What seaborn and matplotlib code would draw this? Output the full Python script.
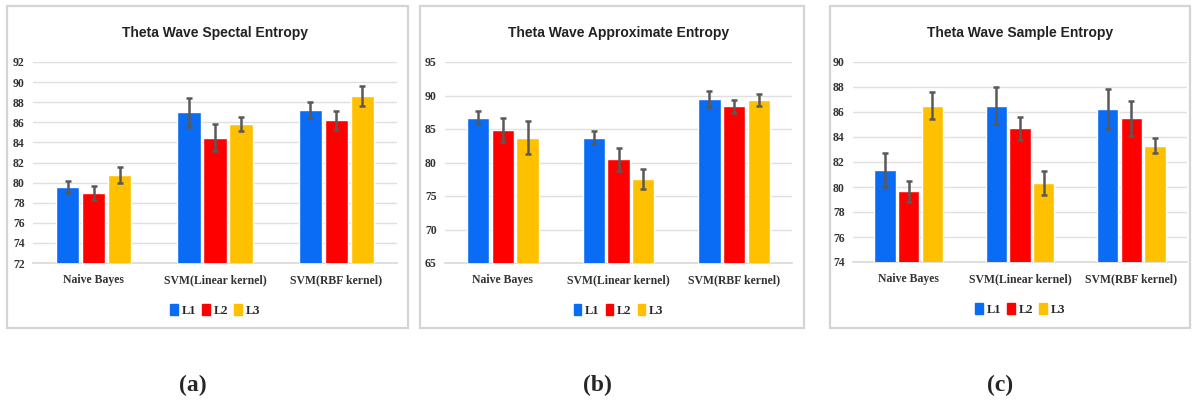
import matplotlib
matplotlib.use("Agg")
import matplotlib.pyplot as plt
import seaborn as sns
import pandas as pd
from matplotlib.patches import Rectangle

classifiers = ["Naive Bayes", "SVM(Linear kernel)", "SVM(RBF kernel)"]
levels = ["L1", "L2", "L3"]

# (a) spectral entropy
spectral_mean = {"L1": [79.6, 87.0, 87.2], "L2": [79.0, 84.45, 86.2], "L3": [80.75, 85.8, 88.6]}
spectral_err = {"L1": [0.6, 1.45, 0.8], "L2": [0.7, 1.35, 0.95], "L3": [0.8, 0.7, 1.0]}
# (b) approximate entropy
approx_mean = {"L1": [86.7, 83.7, 89.5], "L2": [84.8, 80.5, 88.4], "L3": [83.7, 77.6, 89.3]}
approx_err = {"L1": [1.0, 1.0, 1.2], "L2": [1.8, 1.7, 1.0], "L3": [2.5, 1.5, 0.9]}
# (c) sample entropy
sample_mean = {"L1": [81.35, 86.5, 86.2], "L2": [79.65, 84.7, 85.5], "L3": [86.5, 80.35, 83.3]}
sample_err = {"L1": [1.35, 1.5, 1.6], "L2": [0.85, 0.9, 1.4], "L3": [1.1, 0.95, 0.6]}

titles = ["Theta Wave Spectal Entropy", "Theta Wave Approximate Entropy", "Theta Wave Sample Entropy"]
panel_tags = ["(a)", "(b)", "(c)"]
ylims = [(72, 92), (65, 95), (74, 90)]
ysteps = [2, 5, 2]

colors = {"L1": "#0A6CF5", "L2": "#FF0000", "L3": "#FFC000"}

W, H = 1193, 409
fig = plt.figure(figsize=(W / 100, H / 100), dpi=100)
sns.set_style("white")

# pixel boxes: frame (x0, y0, x1, y1), axes (x0, y0, x1, y1)
frames = [(7, 6, 408, 328), (420, 6, 804, 328), (830, 6, 1190, 328)]
axboxes = [(33, 62, 397, 263), (445, 62, 792, 263), (853, 62, 1187, 262)]
tag_x = [193, 597, 1000]

serif = "Liberation Serif"
title_font = "Liberation Sans"

panels = [(spectral_mean, spectral_err), (approx_mean, approx_err), (sample_mean, sample_err)]

for i, (means, errs) in enumerate(panels):
    fx0, fy0, fx1, fy1 = frames[i]
    fig.patches.append(Rectangle((fx0 / W, 1 - fy1 / H), (fx1 - fx0) / W, (fy1 - fy0) / H,
                                 transform=fig.transFigure, fill=False,
                                 edgecolor="#D4D4D4", linewidth=1.6, zorder=0))
    ax0, ay0, ax1, ay1 = axboxes[i]
    ax = fig.add_axes([ax0 / W, 1 - ay1 / H, (ax1 - ax0) / W, (ay1 - ay0) / H])

    rows = []
    for lv in levels:
        for c, m in zip(classifiers, means[lv]):
            rows.append({"clf": c, "level": lv, "acc": m})
    df = pd.DataFrame(rows)

    sns.barplot(data=df, x="clf", y="acc", hue="level", hue_order=levels,
                order=classifiers, palette=colors, width=0.64, gap=0.1,
                saturation=1, errorbar=None, ax=ax, legend=False, zorder=3)

    for lv, cont in zip(levels, ax.containers):
        xs = [p.get_x() + p.get_width() / 2 for p in cont.patches]
        ax.errorbar(xs, means[lv], yerr=errs[lv], fmt="none", ecolor="#595959",
                    elinewidth=1.8, capsize=2.5, capthick=1.8, zorder=4)

    lo, hi = ylims[i]
    ax.set_ylim(lo, hi)
    ax.set_yticks(range(lo, hi + 1, ysteps[i]))
    ax.set_xlim(-0.5, 2.5)
    ax.yaxis.grid(True, color="#E0E0E0", linewidth=1, zorder=0)
    ax.set_axisbelow(True)
    for s in ["top", "right", "left"]:
        ax.spines[s].set_visible(False)
    ax.spines["bottom"].set_color("#D9D9D9")
    ax.spines["bottom"].set_linewidth(1.2)
    ax.tick_params(axis="both", length=0, pad=6)
    ax.tick_params(axis="x", pad=8)
    ax.set_xlabel("")
    ax.set_ylabel("")
    for t in ax.get_xticklabels() + ax.get_yticklabels():
        t.set_fontfamily(serif)
        t.set_fontweight("bold")
        t.set_fontsize(8.5)
        t.set_color("#333333")

    ax.set_title(titles[i], fontsize=10, fontweight="bold", family=title_font,
                 color="#222222", pad=18)

    handles = [Rectangle((0, 0), 1, 1, color=colors[lv]) for lv in levels]
    ax.legend(handles, levels, loc="upper center", bbox_to_anchor=(0.5, -0.15),
              ncol=3, frameon=False, handlelength=0.6, handleheight=0.9,
              handletextpad=0.3, columnspacing=0.5,
              prop={"family": serif, "weight": "bold", "size": 9})

    fig.text(tag_x[i] / W, 1 - 385 / H, panel_tags[i], ha="center", va="center",
             family=serif, fontweight="bold", fontsize=17)

fig.savefig("out.png", dpi=100)
